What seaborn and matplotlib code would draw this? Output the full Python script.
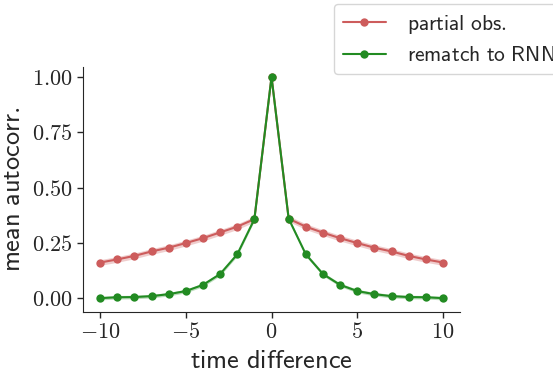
import numpy as np
import pandas as pd
import matplotlib
matplotlib.use("Agg")
import matplotlib.pyplot as plt
import seaborn as sns

# values
time_diff = list(range(-10, 11))
partial_obs = [0.161, 0.175, 0.191, 0.211, 0.228, 0.249, 0.271, 0.297, 0.323, 0.357, 1.0,
               0.359, 0.323, 0.296, 0.271, 0.249, 0.228, 0.211, 0.191, 0.175, 0.161]
rematch_rnn = [0.0, 0.004, 0.005, 0.009, 0.018, 0.032, 0.060, 0.109, 0.198, 0.357, 1.0,
               0.359, 0.198, 0.109, 0.060, 0.032, 0.018, 0.009, 0.005, 0.004, 0.0]
partial_err = 0.013
rematch_err = 0.008

labels = [r"$\mathsf{partial\ obs.}$", r"$\mathsf{rematch\ to\ RNN}$"]
colors = ["#cd5c5c", "#228b22"]

sns.set_style("ticks")
plt.rcParams["mathtext.fontset"] = "cm"
plt.rcParams["font.family"] = ["DejaVu Sans"]

df = pd.DataFrame({
    "dt": time_diff * 2,
    "val": partial_obs + rematch_rnn,
    "series": [labels[0]] * len(time_diff) + [labels[1]] * len(time_diff),
})

fig = plt.figure(figsize=(5.53, 3.76), dpi=100)
ax = fig.add_axes([0.150, 0.170, 0.682, 0.652])

sns.lineplot(data=df, x="dt", y="val", hue="series", palette=colors,
             marker="o", markersize=6, markeredgewidth=0, linewidth=1.5, ax=ax)

for vals, err, c in [(partial_obs, partial_err, colors[0]), (rematch_rnn, rematch_err, colors[1])]:
    v = np.array(vals)
    ax.fill_between(time_diff, v - err, v + err, color=c, alpha=0.3, linewidth=0)

ax.set_xlim(-11, 11)
ax.set_ylim(-0.063, 1.045)
ax.set_xticks([-10, -5, 0, 5, 10])
ax.set_xticklabels([r"$-10$", r"$-5$", r"$0$", r"$5$", r"$10$"])
ax.set_yticks([0, 0.25, 0.5, 0.75, 1.0])
ax.set_yticklabels([r"$0.00$", r"$0.25$", r"$0.50$", r"$0.75$", r"$1.00$"])
ax.tick_params(labelsize=16, length=4, width=1)
ax.set_xlabel(r"$\mathsf{time\ difference}$", fontsize=19)
ax.set_ylabel(r"$\mathsf{mean\ autocorr.}$", fontsize=19)
sns.despine(ax=ax)

ax.get_legend().remove()
fig.legend(*ax.get_legend_handles_labels(), loc="upper left",
           bbox_to_anchor=(0.604, 0.989), borderaxespad=0,
           fontsize=15.5, handletextpad=1.0, labelspacing=0.45, frameon=True)

fig.savefig("out.png", dpi=100)
